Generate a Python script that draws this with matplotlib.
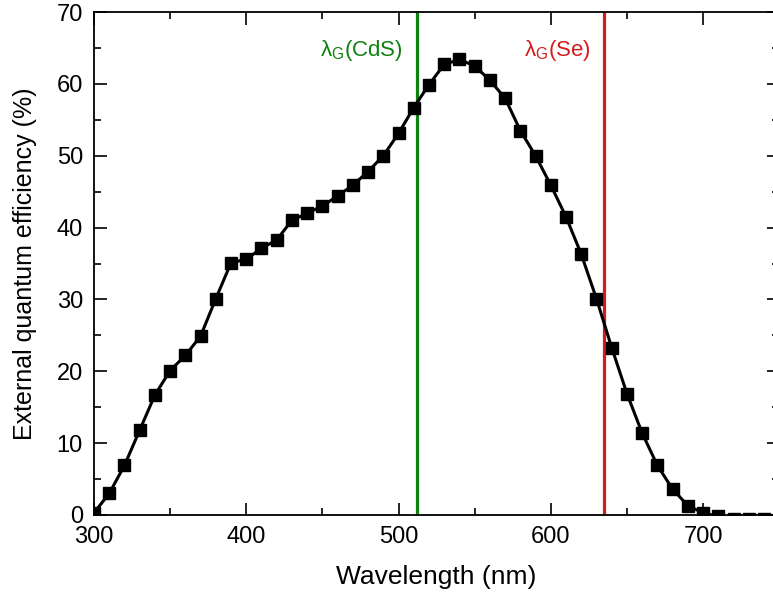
import numpy as np
import matplotlib.pyplot as plt
from matplotlib.ticker import MultipleLocator

plt.rcParams['font.family'] = ['Liberation Sans', 'DejaVu Sans']
plt.rcParams['mathtext.fontset'] = 'custom'
plt.rcParams['mathtext.rm'] = 'Liberation Sans'

# EQE spectrum
wavelength = [300, 310, 320, 330, 340, 350, 360, 370, 380, 390,
              400, 410, 420, 430, 440, 450, 460, 470, 480, 490,
              500, 510, 520, 530, 540, 550, 560, 570, 580, 590,
              600, 610, 620, 630, 640, 650, 660, 670, 680, 690,
              700, 710, 720, 730, 740, 750]
eqe = [0.3, 3.0, 6.9, 11.8, 16.7, 20.1, 22.2, 24.9, 30.1, 35.1,
       35.6, 37.1, 38.3, 41.0, 42.0, 43.0, 44.4, 45.9, 47.8, 50.0,
       53.1, 56.7, 59.9, 62.7, 63.4, 62.5, 60.5, 58.0, 53.5, 50.0,
       45.9, 41.5, 36.3, 30.1, 23.3, 16.9, 11.4, 6.9, 3.6, 1.3,
       0.3, -0.2, -0.5, -0.5, -0.5, -0.5]

# band-gap wavelengths
gap_cds = 512
gap_se = 635

fig = plt.figure(figsize=(7.73, 6.01), dpi=100)
ax = fig.add_axes([0.1216, 0.1431, 0.8864, 0.8369])

ax.axvline(gap_cds, color='#108010', lw=2.3, zorder=1)
ax.axvline(gap_se, color='#d41c1c', lw=2.3, zorder=1)

ax.plot(wavelength, eqe, color='black', lw=2.2, marker='s', markersize=8, zorder=3)

ax.text(gap_cds - 9, 64.6, 'λ$_\\mathregular{G}$(CdS)', color='#108010',
        fontsize=16, ha='right', va='center')
ax.text(gap_se - 9, 64.6, 'λ$_\\mathregular{G}$(Se)', color='#d41c1c',
        fontsize=16, ha='right', va='center')

ax.set_xlim(300, 750)
ax.set_ylim(0, 70)
ax.xaxis.set_major_locator(MultipleLocator(100))
ax.xaxis.set_minor_locator(MultipleLocator(50))
ax.yaxis.set_major_locator(MultipleLocator(10))
ax.yaxis.set_minor_locator(MultipleLocator(5))
ax.tick_params(which='both', direction='in', top=True, right=True, labelsize=17, width=1.2)
ax.tick_params(which='major', length=9, pad=8)
ax.tick_params(which='minor', length=5)
for s in ax.spines.values():
    s.set_linewidth(1.3)

ax.set_xlabel('Wavelength (nm)', fontsize=19, labelpad=12)
ax.set_ylabel('External quantum efficiency (%)', fontsize=18, labelpad=14)

fig.savefig('out.png', dpi=100)
